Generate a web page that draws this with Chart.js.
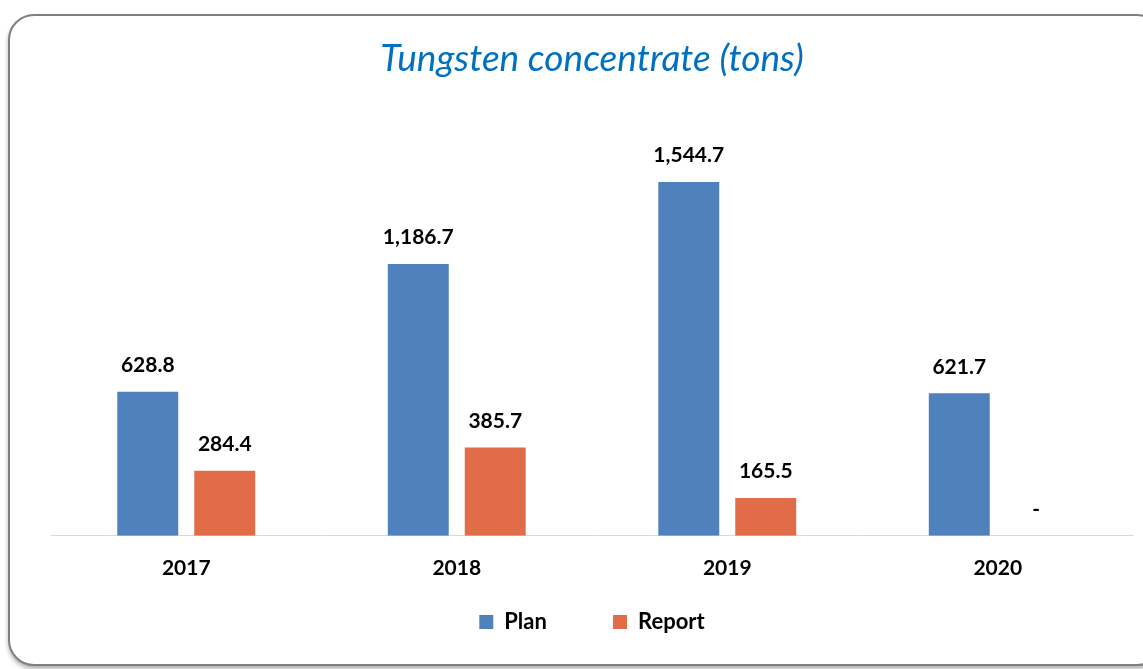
<!DOCTYPE html>
<html lang="en">
<head>
    <meta charset="UTF-8">
    <title>Tungsten concentrate (tons)</title>
    <script src="https://cdn.jsdelivr.net/npm/chart.js"></script>
    <style>
        html, body {
            margin: 0;
            padding: 0;
            background: #fff;
            overflow: hidden;
            width: 1143px;
            height: 669px;
        }
        .frame {
            position: absolute;
            left: 8px;
            top: 14px;
            width: 1155px;
            height: 652px;
            box-sizing: border-box;
            border: 2px solid #808080;
            border-radius: 26px;
            background: #fff;
            box-shadow: 0 3px 4px rgba(0, 0, 0, 0.3);
        }
        .chart-box {
            position: absolute;
            left: 8px;
            top: 14px;
            width: 1155px;
            height: 652px;
        }
    </style>
</head>
<body>

<div class="frame"></div>
<div class="chart-box">
    <canvas id="barChart"></canvas>
</div>

<script>
// Data
const years = ['2017', '2018', '2019', '2020'];
const planValues = [628.8, 1186.7, 1544.7, 621.7];
const reportValues = [284.4, 385.7, 165.5, 0];

const planColor = '#4F81BD';
const reportColor = '#E06D47';
const fontName = 'Lato, "Open Sans", sans-serif';

// Value labels above each bar, "-" for zero
const valueLabels = {
    id: 'valueLabels',
    afterDatasetsDraw(chart) {
        const ctx = chart.ctx;
        ctx.save();
        ctx.font = 'bold 21px ' + fontName;
        ctx.fillStyle = '#000';
        ctx.textAlign = 'center';
        ctx.textBaseline = 'bottom';
        chart.data.datasets.forEach((ds, i) => {
            chart.getDatasetMeta(i).data.forEach((bar, j) => {
                const v = ds.data[j];
                const txt = v === 0 ? '-' : v.toLocaleString('en-US', { minimumFractionDigits: 1, maximumFractionDigits: 1 });
                ctx.fillText(txt, bar.x, bar.y - 16);
            });
        });
        ctx.restore();
    }
};

new Chart(document.getElementById('barChart'), {
    type: 'bar',
    data: {
        labels: years,
        datasets: [
            { label: 'Plan', data: planValues, backgroundColor: planColor },
            { label: 'Report', data: reportValues, backgroundColor: reportColor }
        ]
    },
    options: {
        responsive: true,
        maintainAspectRatio: false,
        animation: false,
        datasets: {
            bar: { categoryPercentage: 0.569, barPercentage: 0.792 }
        },
        layout: {
            padding: { left: 43, right: 30, top: 20, bottom: 23 }
        },
        plugins: {
            title: {
                display: true,
                text: 'Tungsten concentrate (tons)',
                color: '#0070C0',
                font: { family: fontName, size: 37, style: 'italic', weight: 'normal' },
                padding: { top: 3, bottom: 42 }
            },
            legend: {
                position: 'bottom',
                labels: {
                    boxWidth: 14,
                    boxHeight: 14,
                    padding: 18,
                    color: '#000',
                    font: { family: fontName, size: 22, weight: 'bold' },
                    // keep the wide gap between the two items without a tall legend
                    generateLabels(chart) {
                        const items = Chart.defaults.plugins.legend.labels.generateLabels(chart);
                        items[0].text = items[0].text + '         ';
                        return items;
                    }
                }
            },
            tooltip: { enabled: false }
        },
        scales: {
            x: {
                grid: { display: false },
                border: { display: true, color: '#D9D9D9', width: 1 },
                ticks: {
                    color: '#000',
                    padding: 12,
                    font: { family: fontName, size: 21, weight: 'bold' }
                }
            },
            y: {
                display: false,
                min: 0,
                max: 1800
            }
        }
    },
    plugins: [valueLabels]
});
</script>
</body>
</html>
